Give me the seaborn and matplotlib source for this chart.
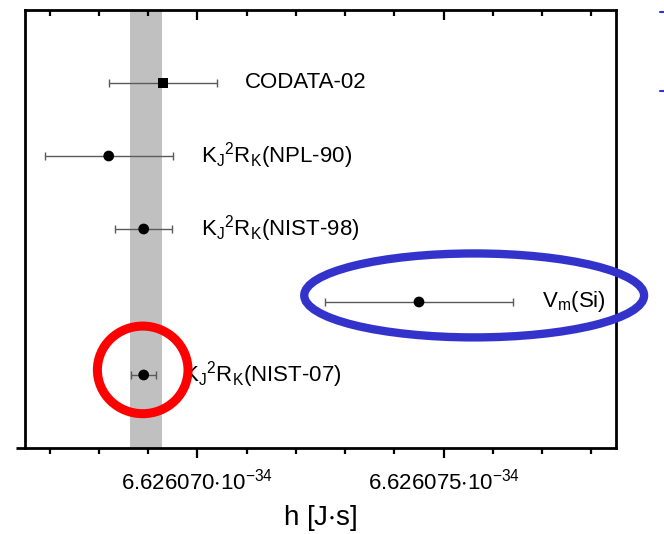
import matplotlib
matplotlib.use("Agg")
import matplotlib.pyplot as plt
from matplotlib.patches import Ellipse
from matplotlib.lines import Line2D
from matplotlib.ticker import FixedLocator, NullFormatter
import seaborn as sns
import pandas as pd

sns.set_theme(style="white")
plt.rcParams["font.family"] = ["Liberation Sans", "DejaVu Sans"]
plt.rcParams["mathtext.fontset"] = "custom"
plt.rcParams["mathtext.rm"] = "Liberation Sans"
plt.rcParams["mathtext.it"] = "Liberation Sans"
plt.rcParams["mathtext.default"] = "regular"
plt.rcParams["text.color"] = "black"
plt.rcParams["axes.labelcolor"] = "black"
plt.rcParams["xtick.color"] = "black"

# Planck constant determinations, h in units of 1e-34 J*s
labels = ["CODATA-02", r"K$_J{}^2$R$_K$(NPL-90)", r"K$_J{}^2$R$_K$(NIST-98)",
          r"V$_m$(Si)", r"K$_J{}^2$R$_K$(NIST-07)"]
h_values = [6.6260693, 6.6260682, 6.62606891, 6.6260745, 6.62606891]
h_uncert = [0.0000011, 0.0000013, 0.00000058, 0.0000019, 0.00000025]
row_pos = [5, 4, 3, 2, 1]
kinds = ["square", "circle", "circle", "circle", "circle"]
label_x = [6.62607096, 6.62607008, 6.62607007, 6.6260770, 6.6260697]

# CODATA-06 recommended value and its standard uncertainty
codata06 = 6.62606896
codata06_u = 0.00000033

major_ticks = [6.626070, 6.626075]
major_labels = [r"6.626070$\cdot$10$^{-34}$", r"6.626075$\cdot$10$^{-34}$"]
minor_ticks = [6.626067, 6.626068, 6.626069, 6.626071, 6.626072, 6.626073,
               6.626074, 6.626076, 6.626077, 6.626078]

df = pd.DataFrame({"h": h_values, "u": h_uncert, "row": row_pos,
                   "kind": kinds, "label": labels, "lx": label_x})

fig = plt.figure(figsize=(6.64, 5.34), dpi=100)
ax = fig.add_axes([25 / 664, 1 - 448 / 534, 591 / 664, 438 / 534])

ax.axvspan(codata06 - codata06_u, codata06 + codata06_u,
           color="#c0c0c0", lw=0, zorder=0)

ax.errorbar(df["h"], df["row"], xerr=df["u"], fmt="none", ecolor="#5a5a5a",
            elinewidth=1.0, capsize=3.2, capthick=1.0, zorder=2)
sns.scatterplot(data=df, x="h", y="row", style="kind",
                markers={"circle": "o", "square": "s"}, color="black",
                s=60, edgecolor="black", linewidth=0, legend=False,
                ax=ax, zorder=3)

for _, r in df.iterrows():
    ax.text(r["lx"], r["row"], r["label"], fontsize=16, va="center",
            ha="left", color="black", zorder=4)

# highlight rings
ax.add_patch(Ellipse((6.62606889, 1.07), 0.00000184, 1.20, fill=False,
                     edgecolor="#ff0000", lw=6.5, zorder=6, clip_on=False))
ax.add_patch(Ellipse((6.62607562, 2.09), 0.00000690, 1.15, fill=False,
                     edgecolor="#3333cc", lw=6.0, zorder=6, clip_on=False))

ax.set_xlim(6.6260665, 6.6260785)
ax.set_ylim(0, 6)
ax.set_yticks([])
ax.set_ylabel("")
ax.set_xlabel("h [J$\\cdot$s]", fontsize=20, labelpad=6, color="black")

ax.xaxis.set_major_locator(FixedLocator(major_ticks))
ax.set_xticklabels(major_labels, fontsize=16, color="black")
ax.xaxis.set_minor_locator(FixedLocator(minor_ticks))
ax.tick_params(axis="x", which="major", direction="out", length=7,
               width=1.6, color="black", labelcolor="black", bottom=True,
               pad=8)
ax.tick_params(axis="x", which="minor", direction="out", length=4,
               width=1.6, color="black", bottom=True)

for side in ["left", "right", "top", "bottom"]:
    ax.spines[side].set_visible(True)
    ax.spines[side].set_color("black")
    ax.spines[side].set_linewidth(2.0)

# bottom axis line runs a little past the left frame
ax.plot([-9 / 591, 0], [0, 0], transform=ax.transAxes, color="black",
        lw=2.0, clip_on=False, solid_capstyle="butt")

# inward ticks along the top frame
top = ax.twiny()
top.set_xlim(ax.get_xlim())
top.xaxis.set_major_locator(FixedLocator(major_ticks))
top.xaxis.set_minor_locator(FixedLocator(minor_ticks))
top.xaxis.set_major_formatter(NullFormatter())
top.tick_params(axis="x", which="major", direction="in", length=7,
                width=1.6, color="black", top=True)
top.tick_params(axis="x", which="minor", direction="in", length=4,
                width=1.6, color="black", top=True)
top.set_yticks([])
for side in top.spines.values():
    side.set_visible(False)

# small blue marks at the right edge
for yy in [12, 91]:
    fig.add_artist(Line2D([660 / 664, 1.0], [1 - yy / 534, 1 - yy / 534],
                          transform=fig.transFigure, color="#3333cc", lw=1.5))

fig.savefig("out.png", dpi=100, facecolor="white")
